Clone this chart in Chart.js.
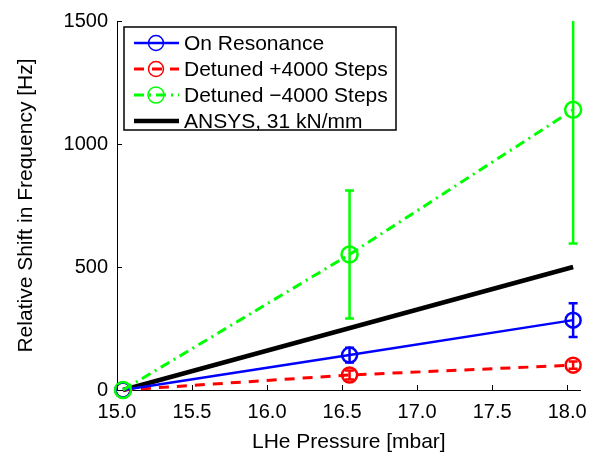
<!DOCTYPE html>
<html>
<head>
<meta charset="utf-8">
<script src="https://cdn.jsdelivr.net/npm/chart.js@4"></script>
<style>
  html, body { margin: 0; padding: 0; background: #fff; }
  #wrap { width: 597px; height: 455px; }
</style>
</head>
<body>
<div id="wrap"><canvas id="shiftChart" width="597" height="455"></canvas></div>
<script>
// LHe pressure [mbar] for each measurement
const pressure = [15.04, 16.55, 18.04];

// relative frequency shift [Hz] and its error
const onResonance = [0, 142, 284];
const onResonanceErr = [0, 30, 69];
const detunedPlus = [0, 61, 101];
const detunedPlusErr = [0, 18, 15];
const detunedMinus = [0, 551, 1139];
const detunedMinusErr = [0, 260, 543];

// simulated stiffness line
const ansysPressure = [15.04, 18.04];
const ansysShift = [0, 500];

const xTicks = [15.0, 15.5, 16.0, 16.5, 17.0, 17.5, 18.0];
const yTicks = [0, 500, 1000, 1500];

const FONT = "'Liberation Sans', Arial, Helvetica, sans-serif";

function pts(xs, ys) {
  return xs.map((x, i) => ({ x: x, y: ys[i] }));
}

// errorbars, inward tick marks and the boxed legend
const extras = {
  id: 'extras',
  afterDatasetsDraw(chart) {
    const ctx = chart.ctx;
    const xs = chart.scales.x, ys = chart.scales.y;
    const a = chart.chartArea;
    ctx.save();
    ctx.beginPath();
    ctx.rect(a.left - 10, a.top, a.right - a.left + 20, a.bottom - a.top + 10);
    ctx.clip();
    chart.data.datasets.forEach(ds => {
      if (!ds.errors) return;
      ctx.strokeStyle = ds.borderColor;
      ctx.lineWidth = 2.5;
      ctx.setLineDash([]);
      ds.data.forEach((p, i) => {
        const e = ds.errors[i];
        if (!e) return;
        const px = xs.getPixelForValue(p.x);
        const top = ys.getPixelForValue(p.y + e);
        const bot = ys.getPixelForValue(p.y - e);
        ctx.beginPath();
        ctx.moveTo(px, top); ctx.lineTo(px, bot);
        ctx.moveTo(px - 4.5, top); ctx.lineTo(px + 4.5, top);
        ctx.moveTo(px - 4.5, bot); ctx.lineTo(px + 4.5, bot);
        ctx.stroke();
      });
    });
    ctx.restore();
  },
  afterDraw(chart) {
    const ctx = chart.ctx;
    const xs = chart.scales.x, ys = chart.scales.y;
    const a = chart.chartArea;
    ctx.save();
    // ticks pointing into the plot
    ctx.strokeStyle = '#000';
    ctx.lineWidth = 1;
    ctx.beginPath();
    xTicks.forEach(v => {
      const px = Math.round(xs.getPixelForValue(v)) + 0.5;
      ctx.moveTo(px, a.bottom); ctx.lineTo(px, a.bottom - 5);
    });
    yTicks.forEach(v => {
      const py = Math.round(ys.getPixelForValue(v)) + 0.5;
      ctx.moveTo(a.left, py); ctx.lineTo(a.left + 5, py);
    });
    ctx.stroke();

    // legend
    const bx = 124, by = 27, bw = 272, bh = 103;
    ctx.fillStyle = '#fff';
    ctx.fillRect(bx, by, bw, bh);
    ctx.lineWidth = 1.5;
    ctx.strokeRect(bx, by, bw, bh);
    ctx.font = '21px ' + FONT;
    ctx.textBaseline = 'middle';
    ctx.textAlign = 'left';
    chart.data.datasets.forEach((ds, i) => {
      const row = ds.legendRow;
      const y = by + 16 + row * 26;
      ctx.strokeStyle = ds.borderColor;
      ctx.lineWidth = ds.borderWidth;
      ctx.setLineDash(ds.borderDash || []);
      ctx.beginPath();
      ctx.moveTo(bx + 10, y); ctx.lineTo(bx + 55, y);
      ctx.stroke();
      ctx.setLineDash([]);
      if (ds.pointRadius > 0) {
        ctx.lineWidth = 1.5;
        ctx.beginPath();
        ctx.arc(bx + 32, y, ds.pointRadius, 0, Math.PI * 2);
        ctx.stroke();
      }
      ctx.fillStyle = '#000';
      ctx.fillText(ds.label, bx + 60, y + 1);
    });
    ctx.restore();
  }
};

const ctx = document.getElementById('shiftChart').getContext('2d');
new Chart(ctx, {
  type: 'line',
  data: {
    datasets: [
      {
        label: 'Detuned \u22124000 Steps',
        data: pts(pressure, detunedMinus),
        errors: detunedMinusErr,
        legendRow: 2,
        borderColor: '#00ff00',
        borderWidth: 3,
        borderDash: [10, 5, 2, 5],
        pointRadius: 8,
        pointBorderWidth: 2.5,
        pointBackgroundColor: 'rgba(0,0,0,0)',
        pointBorderColor: '#00ff00'
      },
      {
        label: 'On Resonance',
        data: pts(pressure, onResonance),
        errors: onResonanceErr,
        legendRow: 0,
        borderColor: '#0000ff',
        borderWidth: 2.5,
        pointRadius: 7.5,
        pointBorderWidth: 2.5,
        pointBackgroundColor: 'rgba(0,0,0,0)',
        pointBorderColor: '#0000ff'
      },
      {
        label: 'Detuned +4000 Steps',
        data: pts(pressure, detunedPlus),
        errors: detunedPlusErr,
        legendRow: 1,
        borderColor: '#ff0000',
        borderWidth: 3,
        borderDash: [10, 8],
        pointRadius: 7.5,
        pointBorderWidth: 2.5,
        pointBackgroundColor: 'rgba(0,0,0,0)',
        pointBorderColor: '#ff0000'
      },
      {
        label: 'ANSYS, 31 kN/mm',
        data: pts(ansysPressure, ansysShift),
        legendRow: 3,
        borderColor: '#000000',
        borderWidth: 4.5,
        pointRadius: 0
      }
    ]
  },
  options: {
    responsive: false,
    animation: false,
    clip: false,
    layout: { padding: { left: 0, top: 20, right: 14, bottom: 0 } },
    plugins: { legend: { display: false }, tooltip: { enabled: false } },
    scales: {
      x: {
        type: 'linear',
        min: 15.0,
        max: 18.09,
        grid: { display: false, drawTicks: false },
        border: { display: true, color: '#000', width: 1 },
        afterBuildTicks: scale => { scale.ticks = xTicks.map(v => ({ value: v })); },
        afterFit: scale => { scale.height = 65; },
        ticks: {
          color: '#000',
          padding: 10,
          maxRotation: 0,
          autoSkip: false,
          font: { family: FONT, size: 20 },
          callback: v => v.toFixed(1)
        },
        title: {
          display: true,
          text: 'LHe Pressure [mbar]',
          color: '#000',
          font: { family: FONT, size: 21 },
          padding: { top: 0, bottom: 0 }
        }
      },
      y: {
        min: 0,
        max: 1500,
        grid: { display: false, drawTicks: false },
        border: { display: true, color: '#000', width: 1 },
        afterBuildTicks: scale => { scale.ticks = yTicks.map(v => ({ value: v })); },
        afterFit: scale => { scale.width = 117; },
        ticks: {
          color: '#000',
          padding: 9,
          font: { family: FONT, size: 20 },
          callback: v => String(v)
        },
        title: {
          display: true,
          text: 'Relative Shift in Frequency [Hz]',
          color: '#000',
          font: { family: FONT, size: 21 },
          padding: { top: 14, bottom: 0 }
        }
      }
    }
  },
  plugins: [extras]
});
</script>
</body>
</html>
